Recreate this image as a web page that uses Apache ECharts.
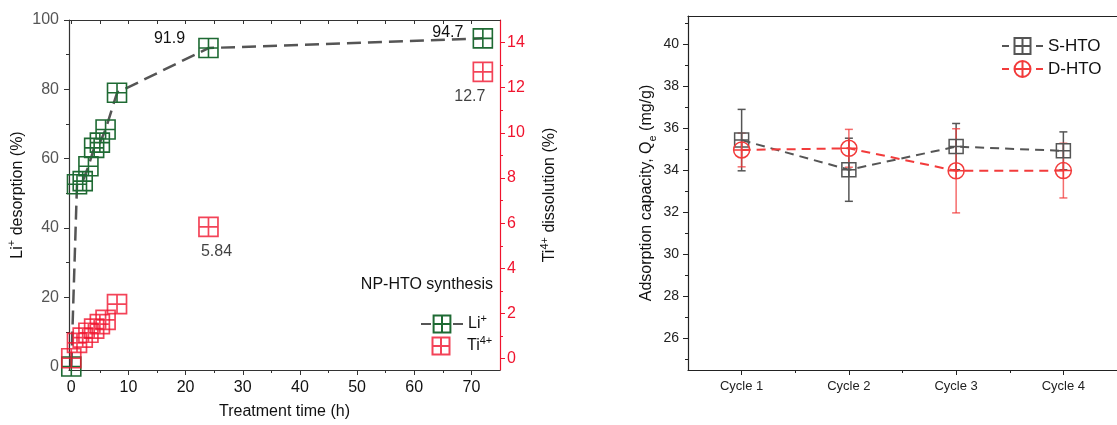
<!DOCTYPE html>
<html><head><meta charset="utf-8">
<script src="https://cdn.jsdelivr.net/npm/echarts@6/dist/echarts.min.js"></script>
<style>html,body{margin:0;padding:0;background:#fff}#c{width:1117px;height:425px}</style>
</head><body><div id="c"></div>
<script>
// ---- left panel data ----
const treatmentTime = [0, 1, 2, 3, 4, 5, 6, 8, 24, 72];
const liDesorption = [0, 52.6, 53.5, 57.8, 63.1, 64.6, 68.4, 79.0, 91.9, 94.7];
const tiDissolution = [0.02, 0.7, 0.93, 1.15, 1.33, 1.53, 1.72, 2.42, 5.84, 12.7];
const annotatedTimes = [24, 72];
const timeTicks = [0, 10, 20, 30, 40, 50, 60, 70];
const timeMinorTicks = [5, 15, 25, 35, 45, 55, 65];
const timeTopTicks = [0, 5, 10, 15, 20, 25, 30, 35, 40, 45, 50, 55, 60, 65, 70];
const liTicks = [0, 20, 40, 60, 80, 100];
const liMinorTicks = [10, 30, 50, 70, 90];
const tiTicks = [0, 2, 4, 6, 8, 10, 12, 14];
const tiMinorTicks = [1, 3, 5, 7, 9, 11, 13];

// ---- right panel data ----
const cycles = ['Cycle 1', 'Cycle 2', 'Cycle 3', 'Cycle 4'];
const shtoMean = [35.43, 34.02, 35.12, 34.92];
const shtoErr = [1.46, 1.5, 1.1, 0.9];
const dhtoMean = [34.96, 35.04, 33.97, 33.98];
const dhtoErr = [0.8, 0.9, 2.0, 1.3];
const qeTicks = [26, 28, 30, 32, 34, 36, 38, 40];
const qeMinorTicks = [25, 27, 29, 31, 33, 35, 37, 39, 41];

const FONT = 'Liberation Sans, Arial, sans-serif';
const GREEN = '#1e6a33', RED = '#f0142e', GRAY = '#555', RED2 = '#f23b3b';
const SQ = 'path://M0,0H20V20H0ZM10,0V20M0,10H20';
const CI = 'path://M0,10A10,10,0,1,1,20,10A10,10,0,1,1,0,10ZM10,0V20M0,10H20';

const labelOffsets = { li: {24: [-39, -9], 72: [-35, -6]}, ti: {24: [8, 25], 72: [-13, 25]} };
function pts(xs, ys, key) {
  return xs.map((t, i) => {
    const item = { value: [t, ys[i]] };
    if (annotatedTimes.includes(t)) {
      item.label = { show: true, position: 'inside', offset: labelOffsets[key][t],
        formatter: String(ys[i]), color: '#111', fontSize: 16, fontFamily: FONT };
    }
    return item;
  });
}
const cycleIdx = cycles.map((c, i) => i + 1);
function errSeries(name, means, errs, color, opacity) {
  return {
    type: 'custom', name: name + ' err', xAxisIndex: 3, yAxisIndex: 4, z: 1,
    data: cycleIdx.map((x, i) => [x, means[i], errs[i]]),
    encode: { x: 0, y: 1 },
    renderItem(params, api) {
      const x = api.value(0), y = api.value(1), e = api.value(2);
      const a = api.coord([x, y + e]), b = api.coord([x, y - e]);
      const hw = 4;
      const st = { stroke: color, lineWidth: 1.5, opacity: opacity };
      return { type: 'group', children: [
        { type: 'line', shape: { x1: a[0], y1: a[1], x2: b[0], y2: b[1] }, style: st },
        { type: 'line', shape: { x1: a[0] - hw, y1: a[1], x2: a[0] + hw, y2: a[1] }, style: st },
        { type: 'line', shape: { x1: b[0] - hw, y1: b[1], x2: b[0] + hw, y2: b[1] }, style: st }
      ]};
    }
  };
}

const supRich = { sup: { fontSize: 11, verticalAlign: 'top', fontFamily: FONT } };
const tickAx = (extra) => {
  const o = Object.assign({ splitLine: { show: false } }, extra);
  o.axisLine = Object.assign({ onZero: false }, extra.axisLine || {});
  return o;
};

const option = {
  animation: false,
  backgroundColor: '#fff',
  textStyle: { fontFamily: FONT },
  grid: [
    { left: 69, top: 20, width: 431, height: 351 },
    { left: 688, top: 16, width: 437, height: 354 }
  ],
  xAxis: [
    tickAx({ gridIndex: 0, type: 'value', position: 'bottom', min: -0.4, max: 75,
      axisLine: { lineStyle: { color: '#333', width: 1.2 } },
      axisTick: { customValues: timeTicks, length: 5, lineStyle: { color: '#333' } },
      axisLabel: { customValues: timeTicks, color: '#111', fontSize: 16, margin: 10, fontFamily: FONT },
      name: 'Treatment time (h)', nameLocation: 'middle', nameGap: 34,
      nameTextStyle: { fontSize: 16, color: '#111', fontFamily: FONT } }),
    tickAx({ gridIndex: 0, type: 'value', position: 'bottom', min: -0.4, max: 75,
      axisLine: { show: false },
      axisTick: { customValues: timeMinorTicks, length: 3, lineStyle: { color: '#333' } },
      axisLabel: { show: false } }),
    tickAx({ gridIndex: 0, type: 'value', position: 'top', min: -0.4, max: 75,
      axisLine: { lineStyle: { color: '#333', width: 1.2 } },
      axisTick: { customValues: timeTopTicks, inside: true, length: 4, lineStyle: { color: '#333' } },
      axisLabel: { show: false } }),
    tickAx({ gridIndex: 1, type: 'value', position: 'bottom', min: 0.5, max: 4.5,
      axisLine: { lineStyle: { color: '#222', width: 1.2 } },
      axisTick: { customValues: cycleIdx, length: 5, lineStyle: { color: '#222' } },
      axisLabel: { customValues: cycleIdx, formatter: v => cycles[Math.round(v) - 1], color: '#222', fontSize: 13, margin: 10, fontFamily: FONT } }),
    tickAx({ gridIndex: 1, type: 'value', position: 'bottom', min: 0.5, max: 4.5,
      axisLine: { show: false },
      axisTick: { customValues: [1.5, 2.5, 3.5], length: 3, lineStyle: { color: '#222' } },
      axisLabel: { show: false } }),
    tickAx({ gridIndex: 1, type: 'value', position: 'top', min: 0.5, max: 4.5,
      axisLine: { lineStyle: { color: '#222', width: 1.2 } },
      axisTick: { show: false }, axisLabel: { show: false } })
  ],
  yAxis: [
    tickAx({ gridIndex: 0, type: 'value', position: 'left', min: -1, max: 100,
      axisLine: { show: true, lineStyle: { color: '#333', width: 1.2 } },
      axisTick: { show: true, customValues: liTicks, length: 5, lineStyle: { color: '#333' } },
      axisLabel: { customValues: liTicks, color: '#555', fontSize: 16, margin: 10, fontFamily: FONT },
      name: 'Li{sup|+} desorption (%)', nameLocation: 'middle', nameGap: 33,
      nameTextStyle: { fontSize: 16, lineHeight: 22, color: '#111', fontFamily: FONT, rich: supRich } }),
    tickAx({ gridIndex: 0, type: 'value', position: 'left', min: -1, max: 100,
      axisLine: { show: false },
      axisTick: { show: true, customValues: liMinorTicks, length: 3, lineStyle: { color: '#333' } },
      axisLabel: { show: false } }),
    tickAx({ gridIndex: 0, type: 'value', position: 'right', min: -0.5, max: 15,
      axisLine: { show: true, lineStyle: { color: RED, width: 1.2 } },
      axisTick: { show: true, customValues: tiTicks, length: 5, lineStyle: { color: RED } },
      axisLabel: { customValues: tiTicks, color: RED, fontSize: 16, margin: 7, fontFamily: FONT },
      name: 'Ti{sup|4+} dissolution (%)', nameLocation: 'middle', nameGap: 39,
      nameTextStyle: { fontSize: 16, lineHeight: 22, color: '#111', fontFamily: FONT, rich: supRich } }),
    tickAx({ gridIndex: 0, type: 'value', position: 'right', min: -0.5, max: 15,
      axisLine: { show: false },
      axisTick: { show: true, customValues: tiMinorTicks, length: 3, lineStyle: { color: RED } },
      axisLabel: { show: false } }),
    tickAx({ gridIndex: 1, type: 'value', position: 'left', min: 24.5, max: 41.33,
      axisLine: { show: true, lineStyle: { color: '#222', width: 1.2 } },
      axisTick: { show: true, customValues: qeTicks, length: 5, lineStyle: { color: '#222' } },
      axisLabel: { customValues: qeTicks, color: '#222', fontSize: 14, margin: 9, fontFamily: FONT },
      name: 'Adsorption capacity, Q{sub|e} (mg/g)', nameLocation: 'middle', nameGap: 30,
      nameTextStyle: { fontSize: 16, lineHeight: 22, color: '#111', fontFamily: FONT,
        rich: { sub: { fontSize: 11, verticalAlign: 'bottom', fontFamily: FONT } } } }),
    tickAx({ gridIndex: 1, type: 'value', position: 'left', min: 24.5, max: 41.33,
      axisLine: { show: false },
      axisTick: { show: true, customValues: qeMinorTicks, length: 3, lineStyle: { color: '#222' } },
      axisLabel: { show: false } })
  ],
  legend: [
    { data: [{ name: 'Li+', itemStyle: { color: '#fff' }, lineStyle: { type: [10, 22] } }],
      left: 415, top: 308, itemWidth: 42, itemHeight: 21, selectedMode: false,
      formatter: () => 'Li{sup|+}',
      textStyle: { fontSize: 16, lineHeight: 22, color: '#111', fontFamily: FONT, rich: supRich } },
    { data: [{ name: 'Ti4+' }], left: 425, top: 330, itemWidth: 42, itemHeight: 17, selectedMode: false,
      formatter: () => 'Ti{sup|4+}',
      textStyle: { fontSize: 16, lineHeight: 22, color: '#111', fontFamily: FONT, rich: supRich } },
    { data: [{ name: 'S-HTO', itemStyle: { color: '#fff' }, lineStyle: { type: [7, 27] } },
             { name: 'D-HTO', itemStyle: { color: '#fff' }, lineStyle: { type: [7, 27] } }],
      left: 996, top: 32, orient: 'vertical', itemWidth: 41, itemHeight: 20, itemGap: 5, selectedMode: false,
      textStyle: { fontSize: 17, color: '#111', fontFamily: FONT } }
  ],
  graphic: [
    { type: 'text', x: 493, y: 285, style: { text: 'NP-HTO synthesis', font: '16px ' + FONT, fill: '#111',
      textAlign: 'right', textVerticalAlign: 'middle', align: 'right', verticalAlign: 'middle' } }
  ],
  series: [
    { type: 'line', name: 'Li+', xAxisIndex: 0, yAxisIndex: 0, z: 3,
      data: pts(treatmentTime, liDesorption, 'li'),
      symbol: SQ, symbolSize: 19,
      itemStyle: { color: 'none', borderColor: GREEN, borderWidth: 1.6 },
      lineStyle: { color: GRAY, width: 2.5, type: [14, 7] } },
    { type: 'scatter', name: 'Ti4+', xAxisIndex: 0, yAxisIndex: 2, z: 3,
      data: pts(treatmentTime, tiDissolution, 'ti'),
      symbol: SQ, symbolSize: 19,
      itemStyle: { color: 'none', borderColor: RED, borderWidth: 1.7 } },
    errSeries('S-HTO', shtoMean, shtoErr, GRAY, 1),
    errSeries('D-HTO', dhtoMean, dhtoErr, RED2, 0.75),
    { type: 'line', name: 'S-HTO', xAxisIndex: 3, yAxisIndex: 4, z: 3,
      data: cycleIdx.map((x, i) => [x, shtoMean[i]]),
      symbol: SQ, symbolSize: 14,
      itemStyle: { color: 'none', borderColor: GRAY, borderWidth: 1.5 },
      lineStyle: { color: GRAY, width: 2, type: [9, 6] } },
    { type: 'line', name: 'D-HTO', xAxisIndex: 3, yAxisIndex: 4, z: 4,
      data: cycleIdx.map((x, i) => [x, dhtoMean[i]]),
      symbol: CI, symbolSize: 16,
      itemStyle: { color: 'none', borderColor: RED2, borderWidth: 1.5 },
      lineStyle: { color: RED2, width: 2, type: [9, 6] } }
  ]
};
const chart = echarts.init(document.getElementById('c'), null, { renderer: 'canvas' });
chart.setOption(option);
</script></body></html>
